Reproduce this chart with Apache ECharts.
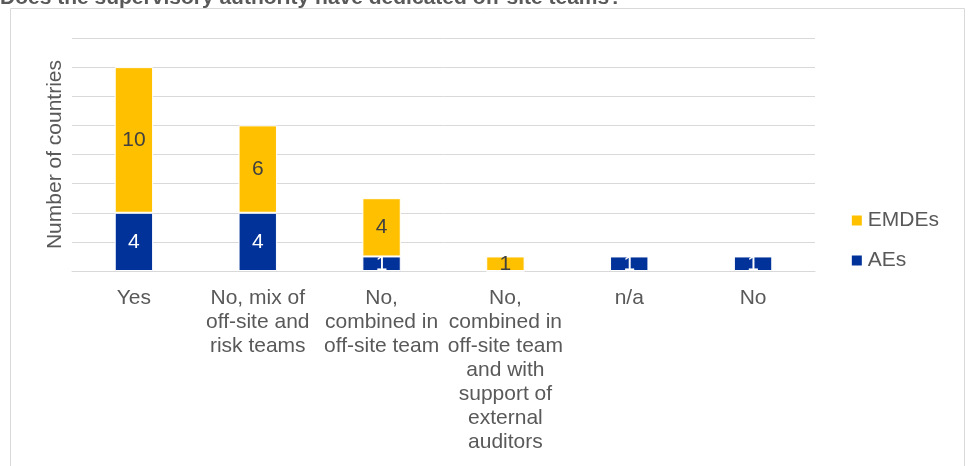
<!DOCTYPE html>
<html><head><meta charset="utf-8">
<script src="https://cdn.jsdelivr.net/npm/echarts@6/dist/echarts.min.js"></script>
<style>html,body{margin:0;padding:0;background:#fff}#c{width:970px;height:466px}</style>
</head><body><div id="c"></div>
<script>
const categories = ["Yes", "No, mix of\noff-site and\nrisk teams", "No,\ncombined in\noff-site team", "No,\ncombined in\noff-site team\nand with\nsupport of\nexternal\nauditors", "n/a", "No"];
const aes = [4, 4, 1, 0, 1, 1];
const emdes = [10, 6, 4, 1, 0, 0];
const chart = echarts.init(document.getElementById('c'));
const F = 'Liberation Sans, Arial, sans-serif';
chart.setOption({
  animation: false,
  textStyle: {fontFamily: F},
  graphic: [
    {type: 'rect', shape: {x: 10.5, y: 8.5, width: 954, height: 480}, style: {fill: 'none', stroke: '#d9d9d9', lineWidth: 1}, z: -1},
    {type: 'text', left: 0, top: -12, style: {text: 'Does the supervisory authority have dedicated off-site teams?', font: 'bold 21px ' + F, fill: '#595959'}}
  ],
  grid: {left: 72, right: 155, top: 38, bottom: 195},
  legend: {
    orient: 'vertical', right: 26, top: 205, itemWidth: 12, itemHeight: 12, itemGap: 19,
    icon: 'rect',
    data: ['EMDEs', 'AEs'],
    textStyle: {fontSize: 21, color: '#595959', fontFamily: F}
  },
  xAxis: {
    type: 'category', data: categories,
    axisLine: {show: true, lineStyle: {color: '#d9d9d9'}},
    axisTick: {show: false},
    axisLabel: {fontSize: 21, color: '#595959', lineHeight: 24, margin: 15, interval: 0, fontFamily: F}
  },
  yAxis: {
    type: 'value', min: 0, max: 16, interval: 2,
    name: 'Number of countries', nameLocation: 'middle', nameGap: 6, nameRotate: 90,
    nameTextStyle: {fontSize: 21, color: '#595959', fontFamily: F},
    axisLabel: {show: false}, axisLine: {show: false}, axisTick: {show: false},
    splitLine: {lineStyle: {color: '#d9d9d9', width: 1}}
  },
  series: [
    {name: 'AEs', type: 'bar', stack: 's', data: aes, barWidth: '31%',
     itemStyle: {color: '#003299', borderColor: '#fff', borderWidth: 1},
     label: {show: true, position: 'inside', fontSize: 21, color: '#fff', fontFamily: F,
             formatter: p => p.value ? p.value : ''}},
    {name: 'EMDEs', type: 'bar', stack: 's', data: emdes, barWidth: '31%',
     itemStyle: {color: '#ffc000', borderColor: '#fff', borderWidth: 1},
     label: {show: true, position: 'inside', fontSize: 21, color: '#404040', fontFamily: F,
             formatter: p => p.value ? p.value : ''}}
  ]
});
</script></body></html>
